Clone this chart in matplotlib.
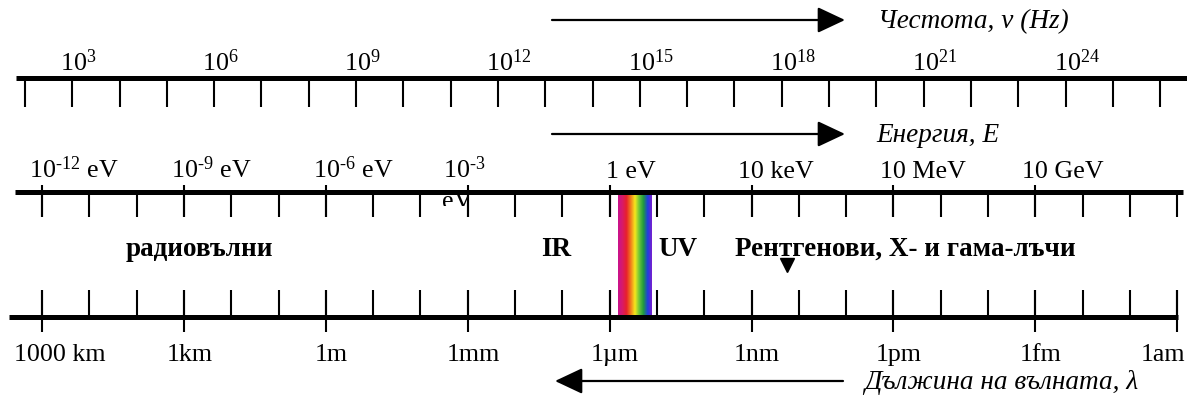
"""
Electromagnetic spectrum scale: frequency, energy and wavelength rulers.
"""
import matplotlib
matplotlib.use('Agg')
import matplotlib.pyplot as plt
import numpy as np
from matplotlib.colors import LinearSegmentedColormap
from matplotlib.patches import Rectangle

plt.rcParams['font.family'] = ['Liberation Serif', 'DejaVu Serif']
plt.rcParams['mathtext.fontset'] = 'custom'
plt.rcParams['mathtext.rm'] = 'Liberation Serif'
plt.rcParams['mathtext.it'] = 'Liberation Serif:italic'

# frequency ruler (Hz), one tick per decade
freq_tick_exp = list(range(2, 27))
freq_label_exp = [3, 6, 9, 12, 15, 18, 21, 24]

# wavelength ruler (m), one tick per decade
wl_tick_exp = list(range(6, -19, -1))
wl_label_exp = [6, 3, 0, -3, -6, -9, -12, -15, -18]
wl_labels = ['1000 km', '1km', '1m', '1mm', '1µm', '1nm', '1pm', '1fm', '1am']

# energy ruler uses the wavelength ticks; labels sit on these wavelength slots
HY = '\u2010'
energy_label_wl = [6, 3, 0, -3, -6, -9, -12, -15]
energy_labels = [r'10$^{\mathrm{%s12}}$ eV' % HY, r'10$^{\mathrm{%s9}}$ eV' % HY,
                 r'10$^{\mathrm{%s6}}$ eV' % HY, r'10$^{\mathrm{%s3}}$' % HY,
                 '1 eV', '10 keV', '10 MeV', '10 GeV']

# spectral regions (wavelength exponent where the label sits)
band_names = ['радиовълни', 'IR', 'UV', 'Рентгенови, X- и гама-лъчи']
band_wl = [2.68, -4.87, -7.45, -8.65]
visible_wl = [-6.17, -6.87]
marker_wl = -9.74
rainbow = ['#c8128f', '#d81a6a', '#e8202b', '#f07d1c', '#f6e81c', '#6cc63a',
           '#1f9b3d', '#1f3fe0', '#7a1fd0']

PX0, STEP = 42.0, 47.3   # pixel of the 1000 km tick, pixels per decade
FREQ_SHIFT = -0.36        # top ruler is drawn a bit left of the others


def u_wl(e):
    return 6 - np.asarray(e, dtype=float)


def u_f(e):
    return np.asarray(e, dtype=float) - 2 + FREQ_SHIFT


def u_px(px):
    return (px - PX0) / STEP


def main():
    fig = plt.figure(figsize=(11.87, 3.96), dpi=100)
    ax = fig.add_axes([0, 0, 1, 1])
    ax.axis('off')

    fs = 18.7
    fs_it = 19.6
    fs_bold = 19.5
    lw_axis = 3.6
    lw_tick = 1.5

    # ---- frequency ruler
    ax.plot([u_px(16), u_px(1187)], [78, 78], color='black', lw=lw_axis,
            solid_capstyle='butt', zorder=3)
    ax.vlines(u_f(freq_tick_exp), 78, 107, color='black', lw=lw_tick)
    for e in freq_label_exp:
        ax.annotate(r'10$^{\mathrm{%d}}$' % e, (u_f(e), 71), xytext=(-12, 0),
                    textcoords='offset pixels', ha='left', va='baseline',
                    fontsize=fs)

    # ---- energy ruler
    ax.plot([u_px(15), u_px(1183)], [191.5, 191.5], color='black', lw=lw_axis,
            solid_capstyle='butt', zorder=3)
    ax.vlines(u_wl(wl_tick_exp), 191, 217, color='black', lw=lw_tick, zorder=3)
    ax.vlines(u_wl(energy_label_wl), 185, 217, color='black', lw=lw_tick, zorder=3)
    for e, lab in zip(energy_label_wl, energy_labels):
        dx = -13
        if lab == '1 eV':
            dx = -4
        elif lab.endswith('3}}$'):
            dx = -25
        ax.annotate(lab, (u_wl(e), 178), xytext=(dx, 0), textcoords='offset pixels',
                    ha='left', va='baseline', fontsize=fs)
    # the wrapped "eV" of 10^-3 hides behind the ruler
    t = ax.annotate('eV', (u_wl(-3), 208), xytext=(-26, 0), textcoords='offset pixels',
                    ha='left', va='baseline', fontsize=fs, zorder=1)
    clip = Rectangle((u_px(400), 185), u_px(520) - u_px(400), 21,
                     transform=ax.transData)
    t.set_clip_path(clip)

    # ---- visible band
    cmap = LinearSegmentedColormap.from_list('vis', rainbow)
    ax.imshow(np.linspace(0, 1, 256)[None, :], cmap=cmap, aspect='auto',
              extent=[u_wl(visible_wl[0]), u_wl(visible_wl[1]), 316, 193],
              interpolation='bilinear', zorder=1)

    # ---- region labels
    for name, e in zip(band_names, band_wl):
        ha = 'left' if name.startswith('Р') else 'center'
        ax.text(u_wl(e), 256, name, ha=ha, va='baseline', fontsize=fs_bold,
                fontweight='bold')
    ax.plot(u_wl(marker_wl), 265, marker='v', ms=10, color='black')

    # ---- wavelength ruler
    ax.plot([u_px(9), u_px(1178)], [316.5, 316.5], color='black', lw=lw_axis,
            solid_capstyle='butt', zorder=3)
    ax.vlines(u_wl(wl_tick_exp), 290, 316, color='black', lw=lw_tick, zorder=3)
    ax.vlines(u_wl(wl_label_exp), 290, 332, color='black', lw=lw_tick, zorder=3)
    for i, (e, lab) in enumerate(zip(wl_label_exp, wl_labels)):
        if i == 0:
            ax.text(u_px(14), 361, lab, ha='left', va='baseline', fontsize=fs)
        elif i == len(wl_labels) - 1:
            ax.text(u_px(1185), 361, lab, ha='right', va='baseline', fontsize=fs)
        else:
            ax.text(u_wl(e) + 0.12, 361, lab, ha='center', va='baseline', fontsize=fs)

    # ---- direction arrows with captions
    arrow = dict(arrowstyle='-|>,head_length=0.85,head_width=0.4', lw=1.6,
                 color='black', shrinkA=0, shrinkB=0, mutation_scale=20)
    ax.annotate('', xy=(u_px(845), 20), xytext=(u_px(552), 20), arrowprops=arrow)
    ax.annotate('', xy=(u_px(845), 134), xytext=(u_px(552), 134), arrowprops=arrow)
    ax.annotate('', xy=(u_px(555), 381), xytext=(u_px(843), 381), arrowprops=arrow)
    ax.text(u_px(878), 28, 'Честота, ν (Hz)', ha='left', va='baseline',
            fontsize=fs_it, style='italic')
    ax.text(u_px(876), 142, 'Енергия, E', ha='left', va='baseline',
            fontsize=fs_it, style='italic')
    ax.text(u_px(864), 389, 'Дължина на вълната, λ', ha='left', va='baseline',
            fontsize=fs_it, style='italic')

    ax.set_xlim(u_px(0), u_px(1187))
    ax.set_ylim(396, 0)
    fig.savefig('out.png', dpi=100)
    plt.close(fig)


if __name__ == '__main__':
    main()
